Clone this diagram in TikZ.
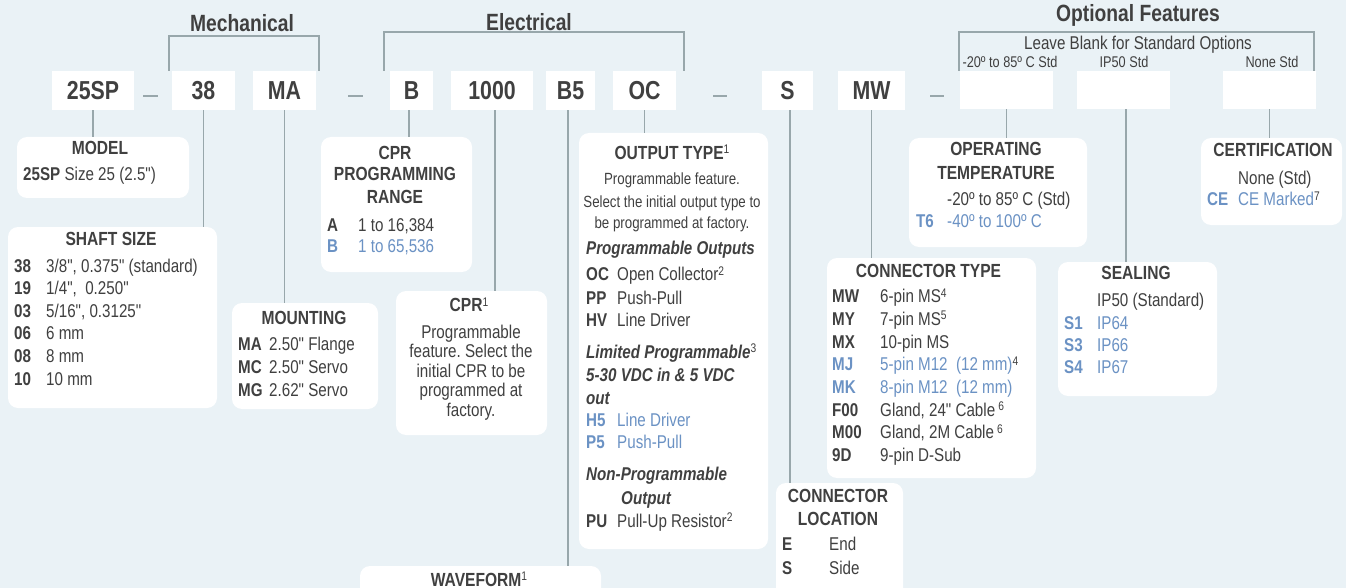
\documentclass[tikz,border=0pt]{standalone}
\usepackage{fontspec}
\setmainfont{Liberation Sans}[FakeStretch=0.82, Ligatures=TeXOff]
\frenchspacing
\definecolor{txt}{RGB}{64,64,64}
\definecolor{blu}{RGB}{107,146,196}
\definecolor{bgc}{RGB}{234,242,246}
\definecolor{lnc}{RGB}{152,167,171}
\newcommand\fcode{\fontsize{26}{28}\selectfont\bfseries}
\newcommand\fhdr{\fontsize{23.5}{26}\selectfont\bfseries}
\newcommand\fttl{\fontsize{19}{22}\selectfont\bfseries}
\newcommand\fbody{\fontsize{18.5}{22}\selectfont}
\newcommand\fdesc{\fontsize{16.2}{19}\selectfont}
\newcommand\fstd{\fontsize{15.5}{18}\selectfont}
\newcommand\supx[1]{\raisebox{5.5pt}{\fontsize{12.5}{13}\selectfont\mdseries\upshape\color{txt}#1}}
\newcommand\kvrow[7]{%
  \node[lft, text=#7, font=\fbody\bfseries] (#1k) at (#2,#4) {#5};
  \node[lft, text=#7] (#1v) at (#3,#4) {#6};}
\begin{document}
\begin{tikzpicture}[x=1pt,y=-1pt,
  code/.style={fill=white, inner sep=0pt, minimum height=39pt, font=\fcode, text=txt},
  ibox/.style={fill=white, rounded corners=10pt, inner sep=0pt},
  conn/.style={draw=lnc, line width=1.8pt},
  dsh/.style={draw=lnc, line width=1.8pt},
  hdr/.style={anchor=base, inner sep=0pt, font=\fhdr, text=txt},
  ttl/.style={anchor=base, inner sep=0pt, font=\fttl, text=txt},
  ctr/.style={anchor=base, inner sep=0pt, font=\fbody, text=txt},
  dsc/.style={anchor=base, inner sep=0pt, font=\fdesc, text=txt},
  lft/.style={anchor=base west, inner sep=0pt, font=\fbody, text=txt},
  bi/.style={anchor=base west, inner sep=0pt, font=\fbody\bfseries\itshape, text=txt},
  stdl/.style={anchor=base, inner sep=0pt, font=\fstd, text=txt}]
\useasboundingbox (0,0) rectangle (1346,588);
\clip (0,0) rectangle (1346,588);
\fill[bgc] (0,0) rectangle (1346,588);

% code boxes
\node[code, minimum width=82pt] (c25sp) at (93,90.5) {25SP};
\node[code, minimum width=63pt] (c38) at (203.5,90.5) {38};
\node[code, minimum width=63pt] (cma) at (284.5,90.5) {MA};
\node[code, minimum width=43pt] (cb) at (411.5,90.5) {B};
\node[code, minimum width=82pt] (c1000) at (492,90.5) {1000};
\node[code, minimum width=49pt] (cb5) at (570.5,90.5) {B5};
\node[code, minimum width=63pt] (coc) at (644.5,90.5) {OC};
\node[code, minimum width=51pt] (cs) at (787.5,90.5) {S};
\node[code, minimum width=67pt] (cmw) at (871.5,90.5) {MW};
\node[code, minimum width=93pt, minimum height=38pt] (cx1) at (1006.5,90) {};
\node[code, minimum width=93pt, minimum height=38pt] (cx2) at (1123.5,90) {};
\node[code, minimum width=93pt, minimum height=38pt] (cx3) at (1269.5,90) {};

% dashes
\draw[dsh] (143,96) -- (158,96);
\draw[dsh] (348,96) -- (363,96);
\draw[dsh] (713,96) -- (727,96);
\draw[dsh] (930,96) -- (944,96);

% brackets
\draw[conn] ([xshift=-3pt]c38.north west) -- ++(0,-35) -| ([xshift=3pt]cma.north east);
\draw[conn] ([xshift=-6pt]cb.north west) -- ++(0,-39) -| ([xshift=8pt]coc.north east);
\draw[conn] ([xshift=-1pt]cx1.north west) -- ++(0,-39) -| ([xshift=-2pt]cx3.north east);

% headers
\node[hdr] (hmech) at (242,32) {Mechanical};
\node[hdr] (helec) at (529,31) {Electrical};
\node[hdr] (hopt) at (1138,22) {Optional Features};
\node[ctr] (hleave) at (1138,50) {Leave Blank for Standard Options};
\node[stdl] (std1) at (1010,68) {-20º to 85º C Std};
\node[stdl] (std2) at (1124,68) {IP50 Std};
\node[stdl] (std3) at (1272,68) {None Std};

% info boxes
\node[ibox, minimum width=172pt, minimum height=61pt] (model) at (103,167.5) {};
\node[ibox, minimum width=209pt, minimum height=181pt] (shaft) at (112.5,317.5) {};
\node[ibox, minimum width=146pt, minimum height=106pt] (mount) at (305,356) {};
\node[ibox, minimum width=151pt, minimum height=135pt] (cprprog) at (396.5,204.5) {};
\node[ibox, minimum width=151pt, minimum height=144pt] (cpr) at (471.5,363) {};
\node[ibox, minimum width=189pt, minimum height=416pt] (outtype) at (673.5,341) {};
\node[ibox, minimum width=241pt, minimum height=74pt] (wave) at (480.5,603) {};
\node[ibox, minimum width=178pt, minimum height=109pt] (optemp) at (998,192.5) {};
\node[ibox, minimum width=209pt, minimum height=220pt] (conntype) at (931.5,368) {};
\node[ibox, minimum width=127pt, minimum height=157pt] (connloc) at (839.5,561.5) {};
\node[ibox, minimum width=159pt, minimum height=134pt] (sealing) at (1137.5,329) {};
\node[ibox, minimum width=141pt, minimum height=87pt] (cert) at (1271.5,181.5) {};

% connectors
\draw[conn] (c25sp.south) -- (c25sp.south |- model.north);
\draw[conn] (c38.south) -- (c38.south |- shaft.north);
\draw[conn] (cma.south) -- (cma.south |- mount.north);
\draw[conn] ([xshift=-2.5pt]cb.south) -- ([xshift=-2.5pt]cb.south |- cprprog.north);
\draw[conn] ([xshift=3pt]c1000.south) -- ([xshift=3pt]c1000.south |- cpr.north);
\draw[conn] ([xshift=-2.5pt]cb5.south) -- ([xshift=-2.5pt]cb5.south |- wave.north);
\draw[conn] (coc.south) -- (coc.south |- outtype.north);
\draw[conn] ([xshift=2.5pt]cs.south) -- ([xshift=2.5pt]cs.south |- connloc.north);
\draw[conn] (cmw.south) -- (cmw.south |- conntype.north);
\draw[conn] (cx1.south) -- (cx1.south |- optemp.north);
\draw[conn] ([xshift=2.5pt]cx2.south) -- ([xshift=2.5pt]cx2.south |- sealing.north);
\draw[conn] (cx3.south) -- (cx3.south |- cert.north);

% MODEL
\node[ttl] (tmodel) at (100,155) {MODEL};
\node[lft] (rmodel) at (23,181) {\textbf{25SP} Size 25 (2.5")};

% SHAFT SIZE
\node[ttl] (tshaft) at (111,245) {SHAFT SIZE};
\kvrow{sa}{14}{46}{272}{38}{3/8", 0.375" (standard)}{txt}
\kvrow{sb}{14}{46}{294.6}{19}{1/4",\ \ 0.250"}{txt}
\kvrow{sc}{14}{46}{317.2}{03}{5/16", 0.3125"}{txt}
\kvrow{sd}{14}{46}{339.8}{06}{6 mm}{txt}
\kvrow{se}{14}{46}{362.4}{08}{8 mm}{txt}
\kvrow{sf}{14}{46}{385}{10}{10 mm}{txt}

% MOUNTING
\node[ttl] (tmount) at (304,324) {MOUNTING};
\kvrow{ma}{238}{269}{350.7}{MA}{2.50" Flange}{txt}
\kvrow{mb}{238}{269}{373.3}{MC}{2.50" Servo}{txt}
\kvrow{mc}{238}{269}{396}{MG}{2.62" Servo}{txt}

% CPR PROGRAMMING RANGE
\node[ttl] (tcp1) at (395,159.3) {CPR};
\node[ttl] (tcp2) at (395,181) {PROGRAMMING};
\node[ttl] (tcp3) at (395,203.3) {RANGE};
\kvrow{pa}{327}{358}{231}{A}{1 to 16,384}{txt}
\kvrow{pb}{327}{358}{252.3}{B}{1 to 65,536}{blu}

% CPR
\node[ttl] (tcpr) at (469,311.7) {CPR\supx{1}};
\node[ctr] (cd1) at (471,338) {Programmable};
\node[ctr] (cd2) at (471,357.5) {feature. Select the};
\node[ctr] (cd3) at (471,377) {initial CPR to be};
\node[ctr] (cd4) at (471,396.5) {programmed at};
\node[ctr] (cd5) at (471,416) {factory.};

% OUTPUT TYPE
\node[ttl] (tout) at (672,159.3) {OUTPUT TYPE\supx{1}};
\node[dsc] (od1) at (672,185) {Programmable feature.};
\node[dsc] (od2) at (672,207.3) {Select the initial output type to};
\node[dsc] (od3) at (672,228.3) {be programmed at factory.};
\node[bi] (oh1) at (586,254) {Programmable Outputs};
\kvrow{oa}{586}{617}{280.7}{OC}{Open Collector\supx{2}}{txt}
\kvrow{ob}{586}{617}{304.3}{PP}{Push-Pull}{txt}
\kvrow{oc}{586}{617}{326.7}{HV}{Line Driver}{txt}
\node[bi] (oh2) at (586,358.3) {Limited Programmable\supx{3}};
\node[bi] (oh3) at (586,381.7) {5-30 VDC in \& 5 VDC};
\node[bi] (oh4) at (586,404) {out};
\kvrow{od}{586}{617}{426.7}{H5}{Line Driver}{blu}
\kvrow{oe}{586}{617}{448.3}{P5}{Push-Pull}{blu}
\node[bi] (oh5) at (586,480.7) {Non-Programmable};
\node[bi] (oh6) at (621,504) {Output};
\kvrow{of}{586}{617}{527.3}{PU}{Pull-Up Resistor\supx{2}}{txt}

% WAVEFORM
\node[ttl] (twave) at (479,586) {WAVEFORM\supx{1}};

% CONNECTOR LOCATION
\node[ttl] (tloc1) at (838,502.7) {CONNECTOR};
\node[ttl] (tloc2) at (838,525) {LOCATION};
\kvrow{la}{782}{829}{550.7}{E}{End}{txt}
\kvrow{lb}{782}{829}{574}{S}{Side}{txt}

% OPERATING TEMPERATURE
\node[ttl] (top1) at (996,156) {OPERATING};
\node[ttl] (top2) at (996,179.3) {TEMPERATURE};
\node[lft] (tstd) at (947,205) {-20º to 85º C (Std)};
\kvrow{ta}{916}{947}{227.3}{T6}{-40º to 100º C}{blu}

% CONNECTOR TYPE
\node[ttl] (tct) at (928.5,277.3) {CONNECTOR TYPE};
\kvrow{ka}{832}{880}{302.7}{MW}{6-pin MS\supx{4}}{txt}
\kvrow{kb}{832}{880}{325.4}{MY}{7-pin MS\supx{5}}{txt}
\kvrow{kc}{832}{880}{348.1}{MX}{10-pin MS}{txt}
\kvrow{kd}{832}{880}{370.8}{MJ}{5-pin M12\ \ (12 mm)\supx{4}}{blu}
\kvrow{ke}{832}{880}{393.5}{MK}{8-pin M12\ \ (12 mm)}{blu}
\kvrow{kf}{832}{880}{416.2}{F00}{Gland, 24" Cable\,\supx{6}}{txt}
\kvrow{kg}{832}{880}{438.9}{M00}{Gland, 2M Cable\,\supx{6}}{txt}
\kvrow{kh}{832}{880}{461.6}{9D}{9-pin D-Sub}{txt}

% SEALING
\node[ttl] (tseal) at (1136,279) {SEALING};
\node[lft] (sstd) at (1097,306) {IP50 (Standard)};
\kvrow{ea}{1064}{1097}{329}{S1}{IP64}{blu}
\kvrow{eb}{1064}{1097}{351}{S3}{IP66}{blu}
\kvrow{ec}{1064}{1097}{373.3}{S4}{IP67}{blu}

% CERTIFICATION
\node[ttl] (tcert) at (1273,156.7) {CERTIFICATION};
\node[lft] (cstd) at (1238,184.3) {None (Std)};
\kvrow{ca}{1207}{1238}{205.7}{CE}{CE Marked\supx{7}}{blu}
\end{tikzpicture}
\end{document}
